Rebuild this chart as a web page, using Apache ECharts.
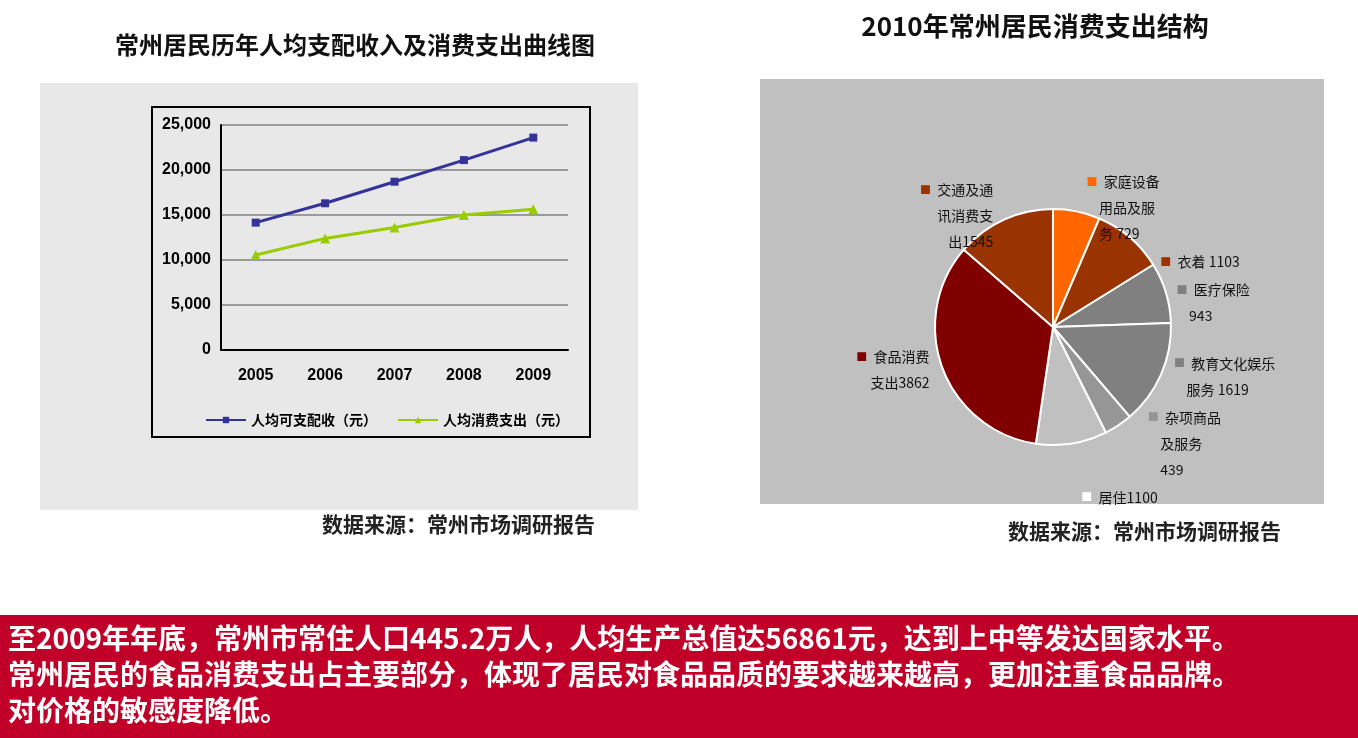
<!DOCTYPE html>
<html><head><meta charset="utf-8">
<script src="https://cdn.jsdelivr.net/npm/echarts@6/dist/echarts.min.js"></script>
<style>body{margin:0;background:#fff;font-family:"Noto Sans CJK SC",sans-serif}
#c{width:1358px;height:738px;position:absolute;left:0;top:0}</style></head>
<body><div id="c"></div>
<script>
const years=['2005','2006','2007','2008','2009'];
const income=[14150,16300,18700,21100,23600];
const consume=[10550,12400,13600,15000,15650];
const yTicks=[0,5000,10000,15000,20000,25000];
const pieNames=['家庭设备用品及服务','衣着','医疗保险','教育文化娱乐服务','杂项商品及服务','居住','食品消费支出','交通及通讯消费支出'];
const pieLabels=['家庭设备\n用品及服\n务 729','衣着 1103','医疗保险\n943','教育文化娱乐\n服务 1619','杂项商品\n及服务\n439','居住1100','食品消费\n支出3862','交通及通\n讯消费支\n出1545'];
const pieValues=[729,1103,943,1619,439,1100,3862,1545];
const pieColors=['#FF6600','#993300','#808080','#808080','#969696','#C0C0C0','#800000','#993300'];
const footer='至2009年年底，常州市常住人口445.2万人，人均生产总值达56861元，达到上中等发达国家水平。\n常州居民的食品消费支出占主要部分，体现了居民对食品品质的要求越来越高，更加注重食品品牌。\n对价格的敏感度降低。';
const chart=echarts.init(document.getElementById('c'));
const F='"Noto Sans CJK SC",sans-serif';
chart.setOption({
 animation:false,
 graphic:[
  {type:'rect',shape:{x:40,y:83,width:598,height:427},style:{fill:'#E8E8E8'},z:-10},
  {type:'rect',shape:{x:152,y:107,width:438,height:330},style:{fill:'none',stroke:'#000',lineWidth:2},z:-5},
  {type:'rect',shape:{x:760,y:79,width:564,height:425},style:{fill:'#C0C0C0'},z:-10},
  {type:'rect',shape:{x:0,y:615,width:1358,height:123},style:{fill:'#C00028'},z:-10},
  {type:'text',left:8,top:620,style:{text:footer,fill:'#fff',font:'bold 28px '+F,lineHeight:36}},
  {type:'text',left:322,top:514,style:{text:'数据来源：常州市场调研报告',fill:'#222',font:'bold 21px '+F}},
  {type:'text',left:1008,top:521,style:{text:'数据来源：常州市场调研报告',fill:'#222',font:'bold 21px '+F}}
 ],
 title:[
  {text:'常州居民历年人均支配收入及消费支出曲线图',left:350,top:28,textAlign:'center',textStyle:{fontFamily:F,fontSize:24,fontWeight:'bold',color:'#111'}},
  {text:'2010年常州居民消费支出结构',left:1030,top:8,textAlign:'center',textStyle:{fontFamily:F,fontSize:26,fontWeight:'bold',color:'#111'}}
 ],
 legend:{left:200,top:408,itemGap:20,itemWidth:40,itemHeight:8,textStyle:{fontFamily:F,fontSize:14,fontWeight:'bold',color:'#000'},data:['人均可支配收（元）','人均消费支出（元）']},
 grid:{left:221,top:125,width:347,height:225},
 xAxis:{type:'category',data:years,boundaryGap:true,axisLine:{lineStyle:{color:'#000',width:2}},axisTick:{show:false},axisLabel:{fontSize:16,fontWeight:'bold',color:'#000',margin:18,fontFamily:'Arial'}},
 yAxis:{type:'value',min:0,max:25000,interval:5000,axisLine:{show:true,lineStyle:{color:'#000',width:2}},axisTick:{show:false},
  splitLine:{lineStyle:{color:'#808080',width:1.5}},
  axisLabel:{fontSize:16,fontWeight:'bold',color:'#000',margin:10,fontFamily:'Arial',formatter:v=>yTicks.includes(v)?(v===0?'0':v.toLocaleString('en-US')):''}},
 series:[
  {name:'人均可支配收（元）',type:'line',data:income,color:'#333399',symbol:'rect',symbolSize:8,lineStyle:{width:3}},
  {name:'人均消费支出（元）',type:'line',data:consume,color:'#99CC00',symbol:'triangle',symbolSize:10,lineStyle:{width:3}},
  {type:'pie',center:[1053,327],radius:118,startAngle:90,clockwise:true,
   data:pieNames.map((n,i)=>({name:n,value:pieValues[i],itemStyle:{color:pieColors[i]},label:{formatter:'{m|■}  '+pieLabels[i].replace(/\n/g,'\n    '),rich:{m:{color:pieColors[i]==='#C0C0C0'?'#fff':pieColors[i],fontSize:11}}}})),
   itemStyle:{borderColor:'#fff',borderWidth:2},
   label:{show:true,position:'outside',color:'#111',fontSize:14,lineHeight:26,fontFamily:F},
   labelLine:{show:false,length:4,length2:4}}
 ]
});
</script></body></html>
